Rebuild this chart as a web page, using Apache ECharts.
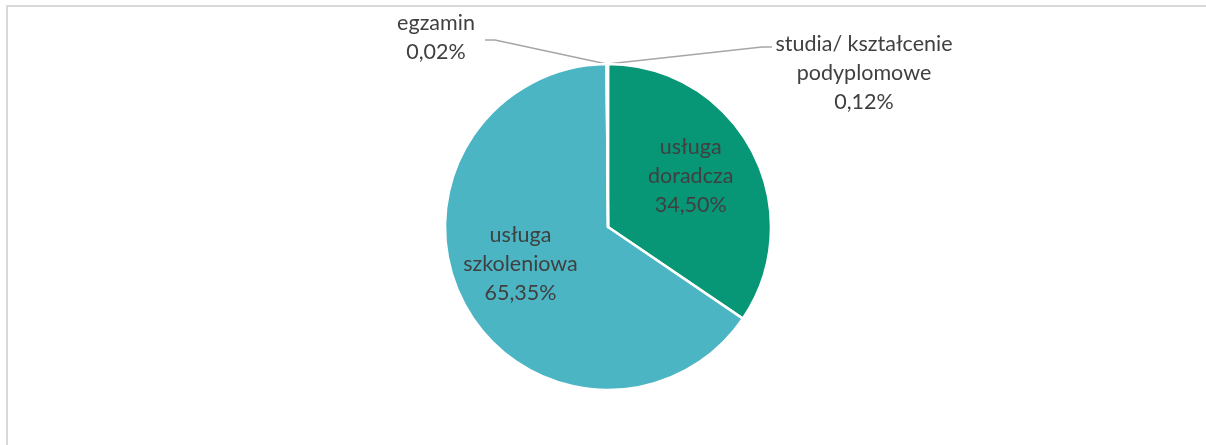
<!DOCTYPE html>
<html lang="pl">
<head>
    <meta charset="UTF-8">
    <title>Usługi</title>
    <script src="https://cdn.jsdelivr.net/npm/echarts@6/dist/echarts.min.js"></script>
    <style>
        html, body { margin: 0; padding: 0; background: #fff; }
    </style>
</head>
<body>
<div id="main" style="width: 1206px;height:445px;"></div>
<script>
    // dane
    var categories = ['usługa doradcza', 'usługa szkoleniowa', 'egzamin', 'studia/ kształcenie podyplomowe'];
    var values = [34.50, 65.35, 0.02, 0.12];
    var colors = ['#079676', '#4BB5C4', '#A5A5A5', '#7F7F7F'];

    var fontName = 'Lato';

    function breakLast(s) {
        var i = s.lastIndexOf(' ');
        return i < 0 ? s : s.slice(0, i) + '\n' + s.slice(i + 1);
    }

    var pieData = categories.map(function (c, i) {
        var item = { name: c, value: values[i], itemStyle: { color: colors[i] } };
        if (i >= 2) {
            item.label = { position: 'outside' };
            item.labelLine = { show: true };
        }
        return item;
    });

    var myChart = echarts.init(document.getElementById('main'));

    option = {
        backgroundColor: '#fff',
        animation: false,
        graphic: [{
            type: 'rect',
            shape: { x: 7, y: 6, width: 1300, height: 600 },
            style: { fill: 'none', stroke: '#D9D9D9', lineWidth: 2 },
            silent: true
        }],
        series: [{
            type: 'pie',
            center: [608, 227],
            radius: 163,
            startAngle: 90,
            clockwise: true,
            data: pieData,
            itemStyle: { borderColor: '#fff', borderWidth: 2.5 },
            label: {
                position: 'inside',
                color: '#404040',
                fontFamily: fontName,
                fontSize: 21.5,
                lineHeight: 29,
                formatter: function (p) {
                    return breakLast(p.name) + '\n' + p.value.toFixed(2).replace('.', ',') + '%';
                }
            },
            labelLine: {
                lineStyle: { color: '#A6A6A6', width: 1.5 }
            },
            labelLayout: function (p) {
                var start = (p.labelLinePoints && p.labelLinePoints[0]) || [608, 64];
                if (p.dataIndex === 0) {
                    return { dx: 8, dy: -11 };
                }
                if (p.dataIndex === 1) {
                    return { dx: -13, dy: -3 };
                }
                if (p.dataIndex === 2) {
                    return {
                        x: 436, y: 38, align: 'center', verticalAlign: 'middle',
                        labelLinePoints: [start, [495, 40], [485, 40]]
                    };
                }
                if (p.dataIndex === 3) {
                    return {
                        x: 864, y: 73, align: 'center', verticalAlign: 'middle',
                        labelLinePoints: [start, [762, 47], [772, 47]]
                    };
                }
            }
        }]
    };
    myChart.setOption(option);
</script>
</body>
</html>
